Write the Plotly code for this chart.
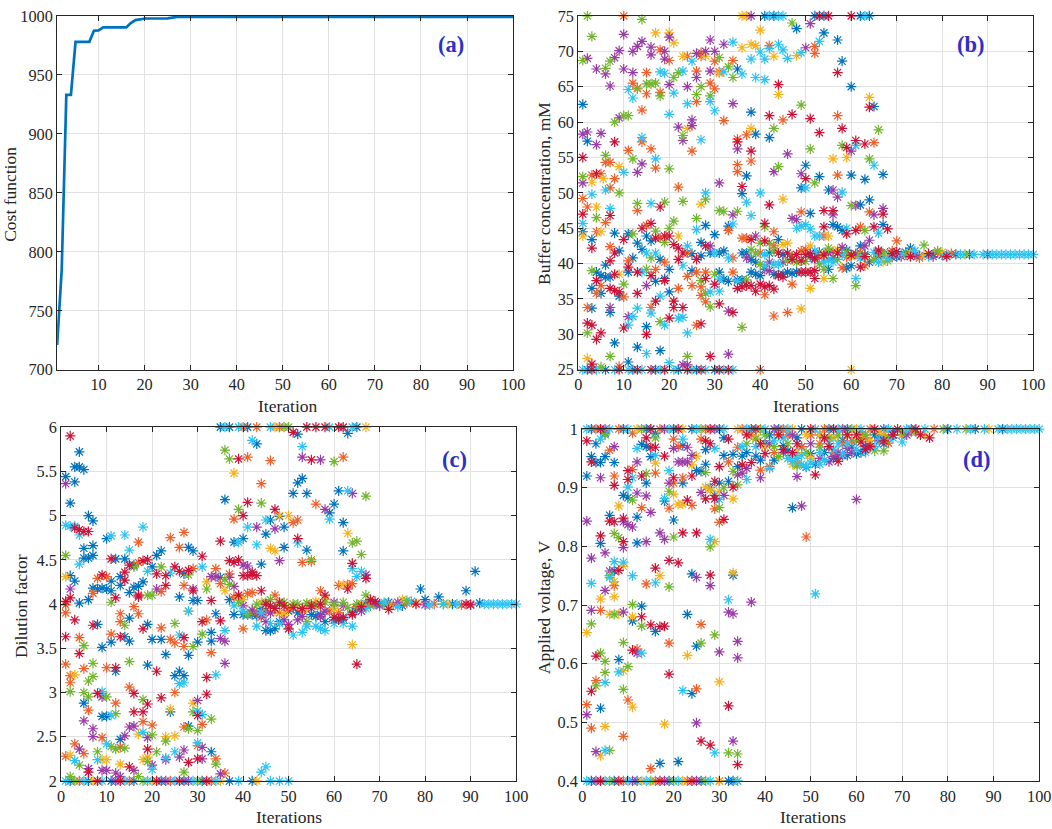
import plotly.graph_objects as go

# ---- (a) best cost per iteration (breakpoints of the line) ----
cost_iter = [1, 2, 3, 4, 5, 8, 9, 10, 11, 16, 17, 18, 19, 20, 25, 26, 27, 100]
cost_val = [721, 785, 933, 933, 978, 978, 987.5, 987.8, 990.3, 990.3, 994, 996.5, 997, 997.8, 998, 998.8, 999.2, 999.2]

# ---- (b) buffer concentration, one list of (iteration, value) per colour ----
b_blue = [(1,44.5),(3,43.4),(4,38.8),(5,38.3),(6,38.1),(7,38.1),(5,35.8),(3,36.5),(3,33.7),(6,39.8),(8,44.3),(9,41.8),(9,35.4),(7,33.1),(8,28.8),(2,57.3),(1,62.5),
          (11,44.2),(16,43.2),(13,42.9),(15,43.9),(14,42.0),(18,40.6),(20,39.2),(12,40.8),(11,38.8),(17,37.5),(19,37.9),(15,31.1),(20,36.0),(18,27.7),(13,28.2),(11,26.1),
          (27,43.0),(28,45.4),(30,44.1),(33,45.3),(25,41.4),(27,41.1),(29,41.5),(31,41.5),(32,41.8),(25,39.0),(31,38.8),(32,37.8),(33,37.5),(35,67.5),
          (36,49.9),(37,52.4),(38,61.4),(39,58.3),(42,57.8),(48,73.2),(54,72.6),(50,53.9),(53,52.3),(49,50.7),(51,47.1),
          (36,41.5),(37,41.5),(42,41.5),(44,43.4),(45,41.3),(38,40.6),(39,40.2),(35,37.7),(36,37.7),(38,38.8),(39,38.5),(40,38.3),(43,38.5),(44,38.4),(45,38.5),(46,38.8),(47,38.6),(48,38.8),
          (55,50.4),(57,71.6),(58,68.6),(60,65.0),(65,62.2),(60,52.5),(63,51.9),(64,49.0),(62,48.3),(67,52.6),(67,45.5),(56,45.5),(57,45.2),(58,44.7),(55,39.2),(59,39.4),(60,39.7),(64,40.2),(62,42.5),
          (51,41.0),(53,41.6),(56,40.8),(59,41.9),(63,41.3),(66,41.0),(68,41.5),
          (41,75),(43,75),(52,75),(54,75),(62,75),(64,75),(2,25),(6,25),(12,25),(17,25),(22,25),(26,25),(30,25),
          (70,41.0),(72,41.6),(73,42.2),(75,41.1),(78,41.3),(80,41.2),(83,41.3),(86,41.3),(90,41.3)]
b_orange = [(10,75),(3,52.5),(5,52.7),(8,52.0),(7,50.7),(1,49.2),(2,48.0),(6,45.8),(4,44.5),(7,42.4),(4,35.8),(5,36.9),(10,35.3),(2,33.8),(9,25.5),(11,56.0),(6,54.3),(7,54.3),
            (12,65.5),(13,64.8),(15,64.0),(15,67.0),(18,70.2),(20,68.7),(18,64.2),(14,61.7),(14,57.2),(16,56.2),(17,53.5),(13,47.5),(15,45.4),(18,43.6),(19,40.2),(17,39.2),(11,40.4),(16,33.8),
            (22,50.8),(24,69.3),(25,55.9),(26,67.2),(26,62.9),(27,69.8),(27,69.3),(29,65.5),(30,68.6),(30,64.7),(31,67.1),(32,60.2),(34,68.7),(33,44.7),(24,41.5),(34,40.8),(24,38.2),(26,38.8),(28,38.8),(34,38.8),(22,36.5),(25,36.9),(27,36.7),(27,35.5),(28,34.6),(26,31.3),
            (35,57.6),(35,54.0),(35,53.0),(37,58.2),(38,54.5),(42,70.8),(45,60.3),(52,70.7),(52,69.7),(49,47.3),(43,44.5),(36,43.6),(37,43.6),(40,41.5),(43,42.5),(49,41.8),(41,35.6),(43,32.6),(46,33.1),(47,37.1),(40,25),
            (57,60.9),(57,52.5),(65,57.1),(64,47.3),(62,45.2),(58,39.4),(63,39.7),(54,43.9),
            (50,42.0),(53,41.1),(56,41.7),(59,40.9),(62,41.5),(66,41.2),(69,41.8),
            (70,43.2),(72,41.2),(75,40.8),(79,41.5),(82,41.4)]
b_yellow = [(1,43.9),(5,44.5),(5.5,52.0),(9,53.7),(4,48.0),(9,38.5),(2,26.6),(3,51.5),
            (23,69.3),(28,69.3),(24,59.1),(27,48.4),(22,43.9),(31,66.9),(36,70.5),(17,72.6),(20,72.6),(21,71.2),
            (38,59.1),(38,71.0),(39,70.8),(40,73.0),(43,69.3),(44,63.9),(48,69.4),(45,49.1),(45,42.7),(46,42.9),(49,33.6),(51,36.5),(36,75),(37,75),
            (55,43.9),(56,54.8),(59,55.0),(64,63.5),(54,37.9),(60,25),(65,40.6),(67,40.2),(61,41.2),
            (51,42.5),(54,41.4),(57,42.0),(60,41.0),(63,40.9),(68,41.3),
            (73,41.5),(76,41.2),(80,41.6)]
b_purple = [(2,69.0),(4,67.5),(6,66.8),(7,65.1),(8,69.1),(9,70.1),(10,72.4),(10,67.5),(9,60.6),(1,58.3),(2,58.6),(5,58.4),(4,56.8),(1,51.4),(7,33.8),
            (12,67.0),(12,70.0),(13,70.7),(14,71.4),(16,70.6),(16,69.5),(19,70.0),(19,68.9),(20,72.0),(20,65.3),(14,54.1),(13,52.9),(15,36.9),(11,32.5),
            (22,59.3),(23,57.4),(24,65.0),(25,60.3),(25,59.5),(26,66.3),(26,69.7),(28,70.0),(29,71.6),(29,67.2),(30,70.0),(32,71.0),(34,62.6),(31,51.4),(34,46.9),(29,42.5),(33,33.3),(33,27.2),(23,25.7),(24,25.7),
            (35,56.2),(38,75),(50,70.5),(51,73.9),(46,55.5),(43,53.0),(49,52.7),(47,46.4),(48,46.2),(39,43.9),(37,40.8),(42,40.2),(45,40.2),(41,39.2),(42,39.0),
            (56,50.4),(56,46.9),(57,49.4),(60,55.9),(61,48.2),(65,46.9),(67,47.8),(64,43.3),(63,42.5),
            (52,40.6),(55,41.6),(58,42.3),(61,41.4),(66,41.7),(69,40.9),
            (71,41.0),(74,41.2),(78,41.0)]
b_green = [(2,75),(3,72.1),(1,68.7),(6,67.6),(7,68.6),(8,60.0),(10,60.9),(11,60.9),(6,55.3),(1,52.3),(9,50.0),(4,46.5),(3,39.0),(10,37.1),(2,30.2),(7,26.9),(5,25.4),
           (14,74.5),(13,64.7),(15,65.4),(16,65.4),(17,65.5),(18,63.7),(21,66.3),(22,67.0),(12,54.8),(20,53.4),(13,48.5),(19,48.7),(21,46.0),(20,45.0),(17,44.6),(19,43.0),(16,40.8),(15,39.2),(12,44.2),(18,31.8),
           (23,58.1),(26,63.9),(27,65.0),(29,63.7),(31,69.1),(33,67.8),(34,66.3),(31,47.5),(32,47.4),(28,49.1),(23,48.8),(26,46.4),(35,47.4),(30,38.5),(27,37.6),(28,35.8),(29,33.9),(24,26.9),
           (43,59.1),(47,74.0),(49,62.4),(44,53.7),(51,56.2),(52,51.4),(41,45.2),(38,42.0),(39,41.5),(43,41.8),(40,42.9),(42,42.9),(40,39.9),(46,40.4),(48,40.2),(50,40.3),(37,37.7),(36,31.0),(47,41.1),
           (58,56.7),(66,58.9),(64,54.8),(60,48.2),(63,44.7),(54,39.2),(56,37.9),(61,36.9),(68,40.4),
           (53,40.0),(55,42.2),(57,40.6),(59,41.6),(62,41.1),(65,40.6),(67,41.5),
           (72,41.3),(76,42.6),(79,41.8),(85,41.3)]
b_cyan = [(1,45.7),(3,49.8),(6,50.4),(7,47.8),(10,52.9),
          (12,63.4),(11,64.6),(18,67.1),(19,66.9),(21,64.1),(20,61.1),(14,57.8),(17,54.8),(16,48.5),(15,41.5),(17,41.5),(14,38.8),(18,35.4),(16,33.0),(13,33.7),(12,32.5),(11,31.3),(19,31.3),(15,27.3),(20,26.0),
          (24,62.6),(23,67.2),(25,68.6),(27,57.5),(29,62.9),(30,61.6),(32,67.1),(34,71.3),(36,66.8),(28,50.0),(26,44.8),(34,45.6),(24,42.5),(30,41.5),(33,40.8),(23,39.7),(31,37.8),(35,37.5),(29,36.0),(31,36.1),(22,32.3),(23,32.4),(24,30.2),
          (37,48.7),(38,46.8),(38,68.9),(39,66.3),(40,69.9),(41,68.9),(41,66.0),(42,70.4),(44,71.0),(45,70.2),(46,69.0),(49,69.8),(53,71.4),(40,50.0),(48,45.0),(49,45.3),(50,45.5),(51,44.9),(52,43.9),(53,43.9),(50,50.7),
          (41,41.3),(41,39.7),(43,39.9),(44,39.9),(58,50.1),(61,56.7),(65,53.9),(66,44.3),(59,45.0),(61,37.9),(54,40.2),(56,40.2),(66,40.2),
          (52,41.8),(55,40.5),(58,41.2),(62,40.8),(65,41.6),(68,40.7),(69,41.2),
          (42,75),(44,75),(45,75),(63,75),(1,25),(4,25),(8,25),(11,25),(14,25),(18,25),(21,25),(25,25),(28,25),(32,25),(34,25),
          (71,41.4),(74,41.8),(77,41.0),(81,41.3),(84,41.3),(87,41.3),(89,41.3),(91,41.3),(92,41.3),(93,41.3),(94,41.3),(95,41.3),(96,41.3),(97,41.3),(98,41.3),(99,41.3),(100,41.3)]
b_red = [(1,55.0),(8,57.2),(4,52.7),(1,47.0),(7,46.8),(10,43.4),(3,42.2),(8,41.5),(8,38.5),(4,37.6),(7,40.4),(7,36.5),(8,36.2),(9,36.0),(2,31.6),(3,31.3),(4,29.3),(5,30.2),(3,25.8),
         (18,48.0),(14,45.0),(16,45.7),(19,43.9),(17,43.6),(20,43.9),(11,39.5),(13,38.8),(13,35.8),(16,38.3),(19,37.6),(17,34.7),(10,30.9),(15,30.0),(20,32.3),
         (22,42.2),(21,42.7),(23,41.5),(26,40.6),(28,42.5),(22,40.6),(28,37.9),(30,37.1),(21,34.7),(21,33.8),(23,33.8),(27,31.5),(31,34.3),(34,33.1),(29,26.9),
         (35,57.2),(36,50.9),(38,55.9),(42,60.9),(44,65.3),(47,61.1),(51,60.5),(53,58.5),(42,48.3),(50,52.0),(41,45.7),(38,43.4),(41,43.2),(44,41.5),(46,41.5),(48,41.3),(50,41.3),(47,40.6),(49,40.4),
         (49,38.8),(50,38.8),(51,38.8),(52,39.0),(35,36.5),(36,36.7),(37,36.9),(38,36.9),(39,36.1),(40,37.1),(41,36.7),(42,36.9),(43,36.4),(44,38.3),(45,38.1),(52,37.9),(53,75),(55,75),(60,75),
         (54,45.2),(54,47.5),(56,47.5),(59,56.4),(58,59.1),(57,67.0),(61,57.4),(63,56.9),(64,62.1),(67,47.0),(68,44.9),(65,45.2),(61,44.7),(59,44.2),(62,39.5),
         (51,41.4),(52,40.8),(54,41.2),(57,41.5),(60,41.2),(63,41.0),(66,41.9),(69,41.4),
         (3,25),(9,25),(13,25),(16,25),(19,25),(24,25),(27,25),(31,25),(33,25),
         (70,41.7),(73,41.0),(77,41.4),(81,41.0)]

# ---- (c) dilution factor ----
c_blue = [(1,5.44),(2,5.14),(3,5.38),(3,5.55),(4,5.55),(5,5.52),(4,5.72),(6,5.0),(7,4.94),(5,4.63),(5,4.52),(6,4.52),(7,4.55),(7,4.66),(2,4.32),(3,4.26),(4,4.01),(6,4.05),(7,4.18),(8,4.17),(9,4.18),(10,4.17),(11,4.15),(11,4.26),
          (10,4.74),(12,4.51),(13,4.31),(13,4.21),(14,4.51),(15,4.13),(16,4.19),(17,4.20),(18,4.25),(16,4.44),(20,4.42),(21,4.55),(22,4.6),(27,4.34),(28,4.64),(29,4.60),(26,4.08),(29,4.04),(30,4.04),(35,4.30),
          (8,3.77),(9,3.51),(11,3.57),(12,3.24),(14,3.63),(15,3.58),(15,3.84),(19,3.77),(20,3.60),(19,3.31),(22,3.60),(23,3.43),(28,3.42),(30,3.57),(33,3.68),(33,3.58),(34,3.89),(26,3.24),(27,3.19),(25,3.19),
          (24,2.78),(5,2.88),(10,2.73),(9,2.73),(13,2.47),(28,2.62),(33,2.33),
          (38,4.70),(40,4.74),(44,4.45),(36,5.18),(43,5.81),(45,4.79),(46,4.95),(48,4.99),(49,4.87),(49,4.64),(51,5.25),(52,5.37),(53,5.42),(52,5.92),(54,5.25),(54,4.61),(60,5.13),(61,5.28),(59,5.03),(62,4.92),(62,4.60),(63,5.93),
          (35,6),(37,6),(41,6),(65,6),(2,2),(6,2),(11,2),(16,2),(22,2),(27,2),(31,2),(37,2),(42,2),
          (38,3.88),(40,3.88),(42,3.88),(44,3.95),(45,3.70),(46,3.70),(47,3.72),(48,3.80),(50,3.92),(55,3.88),(56,3.86),(58,3.80),(60,3.82),(62,3.83),(65,3.95),(66,4.0),(68,4.02),
          (37,4.05),(41,3.88),(43,3.87),(47,3.95),(52,3.9),(57,3.88),(61,3.82),(64,3.9),(67,4.0),
          (70,4.0),(72,4.02),(75,3.98),(79,4.17),(80,4.05),(83,4.08),(86,4.0),(89,4.15),(91,4.37),(92,4.01)]
c_orange = [(1,3.99),(1,3.90),(1,3.32),(2,3.19),(2,3.11),(4,3.62),(5,3.27),(6,2.80),(10,3.28),(11,3.66),(12,2.88),(13,3.80),(13,3.89),(16,3.97),(17,3.89),(15,3.06),(22,3.73),(24,3.60),(25,3.56),(27,3.52),(32,3.82),(33,3.45),
            (25,3.0),(31,2.64),(27,2.61),(30,2.40),(34,2.25),(36,2.09),(20,2.63),(18,2.67),(13,2.38),(9,2.49),(5,2.31),(3,2.42),(1,2.28),
            (7,4.12),(8,4.29),(10,4.31),(17,4.70),(17,4.47),(22,4.14),(24,4.75),(26,4.64),(27,4.81),(27,4.21),(29,4.40),(34,4.40),(35,4.23),(37,4.34),
            (38,4.96),(41,5.66),(44,5.36),(46,5.62),(51,4.92),(52,4.95),(56,5.13),(62,5.66),(53,4.47),(55,4.48),(57,4.15),(61,4.21),(63,4.22),(64,4.23),(42,4.13),(40,3.72),(47,4.10),(43,3.90),
            (40,6),(43,6),(48,6),(4,2),(15,2),(24,2),(33,2),
            (45,3.92),(50,3.95),(55,4.0),(59,3.92),(67,3.98),
            (38,4.08),(41,4.12),(44,3.85),(48,3.9),(53,3.93),(57,3.97),(61,3.9),(65,3.97),(68,4.0),
            (73,3.99),(76,4.01),(82,4.0),(88,3.99)]
c_yellow = [(1,4.31),(3,3.20),(24,2.81),(29,2.88),(23,2.50),(25,2.51),(19,2.27),(18,2.24),(17,2.53),(9,2.24),(10,2.24),(2,2.29),(13,2.19),(32,4.25),(28,3.92),
            (38,5.48),(46,4.63),(47,4.60),(48,5.0),(50,5.0),(63,4.80),(64,3.54),(62,4.22),(49,3.88),(54,3.95),(58,4.05),(36,4.15),(39,4.08),(42,3.93),
            (47,6),(67,6),(7,2),(20,2),(35,2),(43,2),
            (40,4.05),(44,4.02),(47,3.92),(51,3.97),(56,4.03),(60,3.95),(66,4.0),
            (72,3.98),(75,4.05),(78,4.01),(85,4.0)]
c_purple = [(1,5.36),(2,4.17),(9,2.95),(16,2.62),(15,2.61),(14,2.51),(7,2.59),(7,2.50),(19,2.49),(23,2.24),(26,2.27),(27,2.35),(31,2.38),(31,2.25),(35,2.08),(20,2.18),(10,2.12),(9,2.12),(6,2.14),(4,2.36),(5,2.68),(12,2.09),(16,2.12),(13,2.05),
            (30,2.91),(33,4.31),(34,4.31),(37,4.30),(40,4.44),(41,4.43),(35,3.61),(36,3.58),(36,3.33),(21,4.17),(29,4.17),
            (43,4.87),(47,4.85),(53,5.66),(57,5.63),(58,5.07),(64,5.25),(67,4.33),(48,4.49),(45,3.80),(52,3.82),(57,3.86),(60,4.02),(40,3.98),(44,3.88),(50,3.77),(55,3.95),
            (12,2),(23,2),(28,2),
            (38,4.2),(42,3.93),(46,3.9),(49,3.82),(53,3.86),(58,3.92),(62,3.98),(66,3.92),(69,4.0),
            (70,3.98),(74,4.02),(80,3.99)]
c_green = [(1,4.55),(2,3.01),(5,3.53),(5,3.0),(6,3.13),(6,2.95),(7,3.18),(7,3.33),(10,2.95),(14,3.76),(15,3.35),(18,2.92),(25,3.78),(29,3.52),(31,3.66),(33,2.70),(30,2.57),(28,2.59),(29,2.78),(34,2.19),(27,2.10),(23,2.45),
           (21,2.33),(20,2.52),(19,2.22),(14,2.37),(11,2.39),(12,2.36),(8,2.33),(4,2.18),(2,2.05),(17,2.05),(12,2.76),(16,4.42),(22,4.42),(20,4.10),(19,4.10),(32,4.17),(36,4.28),(11,4.02),(28,4.33),
           (37,5.64),(36,5.74),(39,5.07),(44,5.14),(60,5.61),(64,4.69),(65,4.71),(66,4.56),(67,5.22),(55,4.50),(41,3.88),(46,4.05),(49,4.02),(52,4.0),(56,3.99),(60,4.0),(63,3.96),(54,3.80),(67,4.10),
           (49,6),(50,6),(3,2),(18,2),(30,2),
           (37,4.22),(39,4.02),(43,4.0),(45,4.02),(48,4.0),(51,4.0),(54,4.01),(58,4.02),(62,4.02),(65,4.0),(68,3.98),
           (71,4.0),(76,4.04),(84,4.0)]
c_cyan = [(1,4.89),(2,4.88),(3,4.88),(4,4.78),(4,4.45),(11,4.77),(14,4.78),(15,4.61),(18,4.87),(19,4.37),(31,4.42),(9,3.01),(26,3.65),(26,3.10),(27,3.11),(34,3.20),(30,2.79),(31,2.75),(11,2.74),(10,2.42),(30,2.43),(25,2.33),
          (23,2.26),(20,2.13),(18,2.55),(8,2.24),(3,2.23),(28,3.92),(24,4.35),
          (39,4.70),(41,4.87),(43,4.67),(42,5.85),(45,4.95),(52,4.69),(53,5.78),(59,4.96),(63,5.28),(66,4.37),(65,4.31),(64,4.40),(48,3.78),(51,3.65),(54,3.75),(56,3.75),(58,3.70),(60,3.78),(64,3.75),(44,3.90),(36,3.70),
          (36,6),(39,6),(46,6),(59,6),(64,6),(1,2),(5,2),(9,2),(14,2),(19,2),(25,2),(29,2),(34,2),(39,2),(44,2.1),(45,2.16),(46,2),(48,2),(50,2),
          (38,3.98),(40,3.92),(43,3.75),(46,3.78),(50,3.72),(53,3.68),(57,3.72),(62,3.78),(67,3.95),
          (71,4.02),(74,3.97),(77,4.03),(81,3.99),(84,4.0),(87,4.0),(90,4.0),(93,4.0),(94,4.0),(95,4.0),(96,4.0),(97,4.0),(98,4.0),(99,4.0),(100,4.0)]
c_red = [(2,5.9),(3,4.86),(4,4.84),(5,4.82),(6,4.82),(2,4.07),(1,4.03),(9,4.33),(11,4.51),(14,4.36),(15,4.44),(18,4.49),(19,4.5),(21,4.34),(23,4.21),(23,4.32),(25,4.42),(26,4.37),(28,4.38),(29,4.15),(31,4.54),(33,4.04),(14,4.27),(12,4.07),(17,4.10),
         (1,3.63),(3,3.82),(4,3.44),(7,3.76),(8,2.99),(12,3.28),(13,3.63),(17,4.08),(18,3.72),(21,3.24),(27,3.62),(31,3.80),(35,3.81),(32,3.17),(32,2.98),(22,2.94),(16,2.99),(19,2.87),(18,2.78),(16,2.78),(30,2.74),(30,2.25),(28,2.21),(19,2.36),(6,2.10),(15,2.16),
         (37,4.49),(38,4.47),(39,4.50),(40,4.32),(41,4.32),(42,4.36),(42,4.33),(43,4.32),(40,5.0),(41,5.15),(39,5.64),(47,5.07),(52,4.74),(51,5.94),(55,5.63),(64,4.46),(67,4.29),(65,3.32),(63,4.17),(35,4.71),(50,3.72),(53,3.95),(58,4.10),(62,3.85),(46,3.98),(48,4.02),(44,4.15),
         (54,6),(56,6),(58,6),(61,6),(62,6),(8,2),(13,2),(21,2),(26,2),(32,2),
         (39,4.1),(45,4.0),(47,3.95),(49,3.98),(51,3.96),(55,3.98),(57,4.0),(60,3.85),(61,3.83),(64,3.88),(66,3.97),(68,4.05),
         (69,4.03),(72,3.94),(78,4.0),(89,4.0),(90,3.99)]

# ---- (d) applied voltage ----
d_blue = [(1,0.92),(2,0.953),(3,0.975),(3,0.943),(4,0.943),(4,0.805),(4,0.524),(5,0.993),(5,0.953),(6,0.853),(7,0.943),(7,0.758),(8,0.607),(9,0.887),(10,0.883),(11,0.673),(12,0.850),(12,0.806),(13,0.974),(13,0.698),
          (14,0.970),(14,0.908),(15,0.953),(16,0.993),(16,0.655),(17,0.430),(18,0.877),(20,0.845),(21,0.433),(22,0.972),(22,0.908),(23,0.684),(24,0.753),(24,0.549),(25,0.929),(25,0.630),(26,0.928),(27,0.965),(27,0.940),
          (28,0.900),(29,0.887),(30,0.908),(31,0.985),(31,0.955),(32,0.911),(33,0.957),(33,0.751),(34,0.936),(35,0.954),(38,0.954),(39,0.947),(42,0.947),(44,0.972),(45,0.963),(46,0.866),(50,0.958),(56,0.955),(59,0.969),(60,0.958),(62,0.972),(63,0.975),
          (41,0.99),(47,0.985),(52,0.99),(57,0.98),(64,0.99),(68,0.995),(36,0.96),(48,0.97),(53,0.96),(58,0.955),(61,0.99),(65,0.985),
          (40,0.975),(49,0.935),(51,0.94),(55,0.95),(61,0.96),(66,0.975),(70,0.99),
          (2,1),(9,1),(14,1),(20,1),(24,1),(30,1),(37,1),(43,1),(48,1),(54,1),(58,1),(66,1),(72,1),(80,1),(86,1),(92,1),
          (2,0.4),(7,0.4),(12,0.4),(19,0.4),(26,0.4),(32,0.4),(33,0.4)]
d_orange = [(1,0.530),(2,0.490),(3,0.571),(4,0.691),(6,0.964),(7,0.920),(7,0.733),(9,0.476),(10,0.538),(11,0.993),(11,0.931),(12,0.625),(13,0.866),(14,0.736),(15,0.421),(16,0.925),(19,0.865),(19,0.635),(20,0.983),(20,0.908),
            (21,0.970),(22,0.917),(24,0.870),(25,0.557),(26,0.983),(26,0.667),(29,0.864),(30,0.841),(32,0.944),(34,0.969),(41,0.936),(49,0.816),(39,0.93),(47,0.94),(55,0.96),(62,0.985),(67,0.976),
            (37,0.99),(45,0.99),(52,0.975),(59,0.98),(66,0.99),
            (42,0.96),(48,0.97),(50,0.99),(57,0.975),(61,0.995),(72,0.995),
            (3,1),(8,1),(17,1),(27,1),(35,1),(44,1),(53,1),(63,1),(77,1),
            (9,0.4),(16,0.4),(23,0.4),(30,0.4)]
d_yellow = [(1,0.653),(4,0.710),(4,0.443),(5,0.493),(6,0.684),(7,0.740),(7,0.714),(8,0.869),(8,0.685),(9,0.766),(9,0.588),(11,0.680),(11,0.526),(16,0.942),(17,0.750),(18,0.497),(20,0.889),(21,0.872),(22,0.872),(23,0.614),
            (24,0.939),(25,0.954),(27,0.901),(28,0.896),(29,0.808),(30,0.894),(30,0.569),(33,0.881),(33,0.755),(49,0.99),(50,0.95),(46,0.94),(58,0.99),(65,0.995),(75,0.99),
            (38,0.985),(43,0.99),(52,0.99),(61,0.985),(70,0.99),
            (40,0.97),(47,0.96),(55,0.985),(63,0.98),(66,0.99),
            (12,1),(22,1),(34,1),(46,1),(60,1),(89,1),
            (4,0.4),(13,0.4),(22,0.4),(30,0.4),(34,0.4)]
d_purple = [(1,0.843),(1,0.513),(2,0.780),(2,0.691),(3,0.450),(4,0.917),(5,0.789),(5,0.725),(6,0.758),(7,0.970),(9,0.842),(9,0.798),(9,0.688),(10,0.837),(11,0.833),(12,0.944),(12,0.891),(12,0.618),(14,0.886),(14,0.808),
            (15,0.858),(17,0.823),(18,0.812),(19,0.908),(20,0.967),(21,0.944),(22,0.944),(23,0.969),(23,0.944),(24,0.955),(25,0.747),(25,0.499),(26,0.892),(28,0.733),(30,0.620),(31,0.887),(32,0.688),(33,0.685),(33,0.468),
            (34,0.922),(34,0.638),(34,0.610),(35,0.925),(36,0.933),(37,0.705),(39,0.917),(47,0.919),(48,0.869),(54,0.944),(55,0.953),(58,0.967),(60,0.880),
            (44,0.96),(50,0.975),(56,0.96),(62,0.97),(68,0.99),
            (41,0.975),(46,0.99),(52,0.95),(57,0.955),(59,0.96),(65,0.98),(71,0.99),
            (5,1),(18,1),(29,1),(42,1),(57,1),
            (3,0.4),(11,0.4),(18,0.4),(25,0.4)]
d_green = [(2,0.668),(3,0.562),(4,0.618),(5,0.604),(5,0.585),(6,0.750),(6,0.452),(7,0.822),(7,0.684),(8,0.815),(9,0.636),(9,0.556),(10,0.595),(11,0.879),(11,0.701),(13,0.664),(14,0.924),(19,0.894),(19,0.731),(20,0.816),
           (26,0.635),(27,0.926),(28,0.799),(29,0.649),(30,0.866),(31,0.900),(32,0.448),(33,0.928),(34,0.905),(34,0.446),(38,0.983),(43,0.953),(47,0.937),(52,0.969),(64,0.963),(66,0.963),(5,0.99),(16,0.985),
           (40,0.99),(45,0.975),(54,0.985),(60,0.98),(70,0.995),
           (36,0.975),(42,0.97),(49,0.96),(56,0.99),(62,0.99),(67,0.985),(73,0.995),
           (13,1),(26,1),(39,1),(59,1),(79,1),(84,1),
           (6,0.4),(15,0.4),(20,0.4),(27,0.4)]
d_cyan = [(2,0.737),(4,0.983),(5,0.568),(5,0.452),(6,0.747),(7,0.774),(8,0.586),(9,0.773),(10,0.901),(11,0.917),(11,0.750),(12,0.967),(13,0.618),(16,0.955),(16,0.738),(18,0.882),(19,0.929),(22,0.983),(22,0.554),
          (28,0.812),(29,0.967),(29,0.448),(32,0.709),(36,0.914),(41,0.933),(46,0.955),(48,0.955),(49,0.936),(50,0.942),(51,0.719),(53,0.947),(57,0.958),(65,0.983),(70,0.978),(30,0.88),(35,0.97),(38,0.97),(44,0.985),(54,0.975),(60,0.965),
          (42,0.98),(47,0.95),(52,0.94),(56,0.975),(62,0.96),
          (45,0.95),(46,0.945),(48,0.94),(52,0.96),(55,0.965),(58,0.975),(64,0.97),(68,0.985),
          (1,1),(6,1),(10,1),(15,1),(19,1),(25,1),(31,1),(36,1),(40,1),(45,1),(51,1),(56,1),(61,1),(67,1),(71,1),(75,1),(82,1),(85,1),(88,1),(91,1),(93,1),(94,1),(95,1),(96,1),(97,1),(98,1),(99,1),(100,1),
          (1,0.4),(5,0.4),(10,0.4),(14,0.4),(21,0.4),(28,0.4),(34,0.4)]
d_red = [(1,0.98),(2,0.944),(2,0.553),(3,0.613),(4,0.818),(6,0.843),(7,0.904),(7,0.842),(8,0.759),(9,0.848),(9,0.808),(10,0.929),(10,0.914),(11,0.623),(13,0.920),(13,0.680),(14,0.985),(15,0.969),(15,0.666),(16,0.969),
         (16,0.763),(17,0.663),(18,0.954),(18,0.664),(19,0.776),(19,0.582),(20,0.917),(21,0.772),(22,0.823),(23,0.879),(24,0.920),(25,0.823),(26,0.468),(27,0.980),(27,0.881),(28,0.975),(28,0.751),(28,0.461),(29,0.911),
         (29,0.881),(30,0.936),(31,0.846),(32,0.983),(32,0.528),(33,0.901),(34,0.428),(35,0.939),(37,0.943),(40,0.958),(51,0.922),(61,0.978),(76,0.985),(43,0.99),(53,0.985),
         (39,0.975),(46,0.96),(58,0.99),(63,0.97),(66,0.98),
         (36,0.99),(44,0.965),(47,0.975),(54,0.97),(56,0.945),(60,0.99),(62,0.965),(68,0.99),(74,0.99),
         (4,1),(15,1),(21,1),(28,1),(38,1),(50,1),(55,1),(64,1),(69,1),(73,1),
         (4,0.4),(8,0.4),(17,0.4),(24,0.4)]

colors = {"blue": "#0072BD", "orange": "#F0602A", "yellow": "#F5B21E", "purple": "#9A3CA6",
          "green": "#72B52E", "cyan": "#2CC3F2", "red": "#CC1238"}

fig = go.Figure()

fig.add_trace(go.Scatter(x=cost_iter, y=cost_val, mode="lines", line=dict(color="#0072BD", width=2.7),
                         xaxis="x", yaxis="y", showlegend=False))


def add_swarm(groups, xa, ya):
    for name, pts in groups:
        xs = [p[0] for p in pts]
        ys = [p[1] for p in pts]
        fig.add_trace(go.Scatter(x=xs, y=ys, mode="markers", xaxis=xa, yaxis=ya, showlegend=False,
                                 cliponaxis=False, hoverinfo="skip",
                                 marker=dict(symbol="asterisk-open", size=8.5, color=colors[name],
                                             line=dict(color=colors[name], width=1.2))))


add_swarm([("blue", b_blue), ("orange", b_orange), ("yellow", b_yellow), ("purple", b_purple),
           ("green", b_green), ("cyan", b_cyan), ("red", b_red)], "x2", "y2")
add_swarm([("blue", c_blue), ("orange", c_orange), ("yellow", c_yellow), ("purple", c_purple),
           ("green", c_green), ("cyan", c_cyan), ("red", c_red)], "x3", "y3")
add_swarm([("blue", d_blue), ("orange", d_orange), ("yellow", d_yellow), ("purple", d_purple),
           ("green", d_green), ("cyan", d_cyan), ("red", d_red)], "x4", "y4")

# the photographed page comes out a little shrunk, so the figure is drawn slightly
# larger and the wanted pixel spots are mapped back to figure pixels
W, H = 1075, 846
SX, OX = 0.983, 6.0
SY = 0.989
font = "Liberation Serif"


def fx(px):
    return min(max((px - OX) / SX / W, 0), 1)


def fy(py):
    return min(max(1 - py / SY / H, 0), 1)


def ax(px0, px1, rng, dtick, anchor, vertical=False, tickvals=None, ticktext=None):
    d = dict(range=rng, showline=True, linecolor="#262626", linewidth=1, mirror="ticks",
             ticks="inside", ticklen=5, tickcolor="#262626", showgrid=True, gridcolor="#e2e2e2",
             zeroline=False, anchor=anchor, tickfont=dict(family=font, size=16.3, color="#262626"),
             ticklabeloverflow="allow", fixedrange=True)
    if vertical:
        d["domain"] = [fy(px1), fy(px0)]
    else:
        d["domain"] = [fx(px0), fx(px1)]
    if tickvals is not None:
        d["tickmode"] = "array"
        d["tickvals"] = tickvals
        d["ticktext"] = ticktext
    else:
        d["dtick"] = dtick
    return d


xa_ticks = [10, 20, 30, 40, 50, 60, 70, 80, 90, 100]
fig.update_layout(
    width=W, height=H, paper_bgcolor="white", plot_bgcolor="white",
    margin=dict(l=0, r=0, t=0, b=0),
    xaxis=ax(59, 514, [1, 100], None, "y", tickvals=xa_ticks, ticktext=[str(v) for v in xa_ticks]),
    yaxis=ax(7, 365, [700, 1000], 50, "x", vertical=True),
    xaxis2=ax(579, 1033, [0, 100], 10, "y2"),
    yaxis2=ax(7, 365, [25, 75], 5, "x2", vertical=True),
    xaxis3=ax(63, 517, [0, 100], 10, "y3"),
    yaxis3=ax(423, 781, [2, 6], None, "x3", vertical=True,
              tickvals=[2, 2.5, 3, 3.5, 4, 4.5, 5, 5.5, 6],
              ticktext=["2", "2.5", "3", "3.5", "4", "4.5", "5", "5.5", "6"]),
    xaxis4=ax(583, 1039, [0, 100], 10, "y4"),
    yaxis4=ax(425, 781, [0.4, 1], None, "x4", vertical=True,
              tickvals=[0.4, 0.5, 0.6, 0.7, 0.8, 0.9, 1],
              ticktext=["0.4", "0.5", "0.6", "0.7", "0.8", "0.9", "1"]),
)

titles = [("Iteration", 289, 402, 0), ("Cost function", 12, 188, -90),
          ("Iterations", 806, 402, 0), ("Buffer concentration, mM", 545, 187, -90),
          ("Iterations", 290, 817, 0), ("Dilution factor", 23, 604, -90),
          ("Iterations", 813, 817, 0), ("Applied voltage, V", 545, 605, -90)]
for text, px, py, ang in titles:
    fig.add_annotation(text=text, x=fx(px), y=fy(py), xref="paper", yref="paper", showarrow=False,
                       textangle=ang, font=dict(family=font, size=17.5, color="#262626"),
                       xanchor="center", yanchor="middle")

labels = [("(a)", 452, 36), ("(b)", 971, 36), ("(c)", 456, 456), ("(d)", 977, 456)]
for text, px, py in labels:
    fig.add_annotation(text="<b>" + text + "</b>", x=fx(px), y=fy(py), xref="paper", yref="paper",
                       showarrow=False, font=dict(family=font, size=22.5, color="#2E2EC8"),
                       xanchor="center", yanchor="middle")

fig.write_html("out.html", config={"displayModeBar": False},
               post_script="document.body.style.margin='0';"
                           "document.body.style.overflow='hidden';"
                           "document.documentElement.style.overflow='hidden';")
